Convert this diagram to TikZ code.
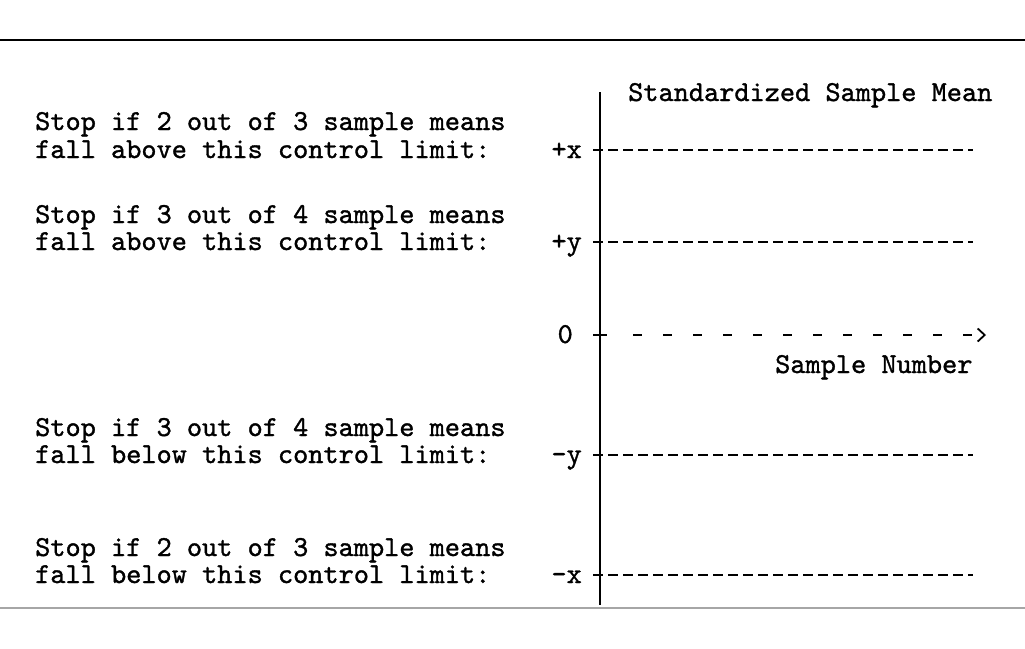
\documentclass[tikz,border=0pt]{standalone}
\usepackage{fontspec}
\newfontfamily\tw{lmmono10-regular}[Extension=.otf, FakeBold=1.2]
\usetikzlibrary{arrows.meta}
\begin{document}
\begin{tikzpicture}[x=1pt,y=-1pt,
  txt/.style={font=\tw\fontsize{28.9pt}{32pt}\selectfont, inner sep=0pt, anchor=base west},
  lbl/.style={font=\tw\fontsize{28.9pt}{32pt}\selectfont, inner sep=0pt, anchor=base east},
  axisline/.style={line width=1.6pt},
  limitline/.style={line width=1.8pt, dash pattern=on 10pt off 5pt},
  zeroline/.style={line width=1.8pt, dash pattern=on 9pt off 21pt},
  tick/.style={line width=1.6pt}]
\useasboundingbox (0,0) rectangle (1025,648);
% frame rules
\draw[line width=2.5pt] (0,40) -- (1025,40);
\draw[line width=2pt, gray!70] (0,608) -- (1025,608);
% axis
\coordinate (atop) at (600,92);
\coordinate (abot) at (600,605);
\draw[axisline] (atop) -- (abot);
\node[txt] (ylabel) at (628,101) {Standardized Sample Mean};
\node[txt] (xlabel) at (775,373) {Sample Number};
% left texts
\node[txt] (t1a) at (35,130) {Stop if 2 out of 3 sample means};
\node[txt] (t1b) at (35,158) {fall above this control limit:};
\node[txt] (t2a) at (35,223) {Stop if 3 out of 4 sample means};
\node[txt] (t2b) at (35,250) {fall above this control limit:};
\node[txt] (t3a) at (35,436) {Stop if 3 out of 4 sample means};
\node[txt] (t3b) at (35,463) {fall below this control limit:};
\node[txt] (t4a) at (35,556) {Stop if 2 out of 3 sample means};
\node[txt] (t4b) at (35,583) {fall below this control limit:};
% level labels
\node[lbl] (px) at (582,158) {+x};
\node[lbl] (py) at (582,250) {+y};
\node[lbl] (z)  at (573,343) {0};
\node[lbl] (my) at (582,463) {-y};
\node[lbl] (mx) at (582,583) {-x};
% limit lines
\foreach \n/\yy in {px/150, py/242, my/455, mx/575}{
  \coordinate (\n s) at (593,\yy);
  \coordinate (\n e) at (973,\yy);
  \draw[tick] (600,\yy-7) -- (600,\yy+7);
  \draw[limitline] (\n s) -- (\n e);
}
% zero line with arrow
\coordinate (zs) at (593,335);
\coordinate (ze) at (986,335);
\draw[tick] (600,328) -- (600,342);
\draw[tick] (593,335) -- (607,335);
\draw[zeroline, dash phase=-20pt, -{Straight Barb[length=7pt,width=13pt,line width=1.8pt]}] (613,335) -- (ze);
\end{tikzpicture}
\end{document}
